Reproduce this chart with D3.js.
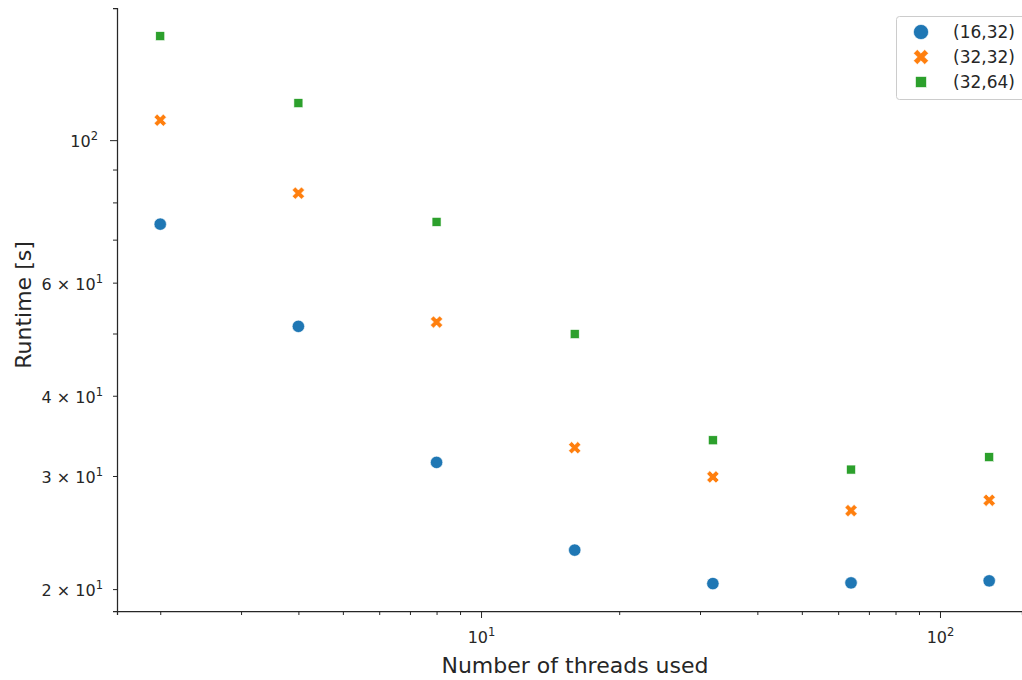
<!DOCTYPE html>
<html>
<head>
<meta charset="utf-8">
<script src="https://cdn.jsdelivr.net/npm/d3@7/dist/d3.min.js"></script>
<style>
  html, body { margin: 0; padding: 0; background: #fff; }
  svg { display: block; font-family: "DejaVu Sans", sans-serif; }
</style>
</head>
<body>
<svg id="chart" width="1022" height="680"></svg>
<script>
// Runtime measurements per thread count, one series per (block, grid) configuration
const threads = [2, 4, 8, 16, 32, 64, 128];
const seriesNames = ["(16,32)", "(32,32)", "(32,64)"];
const runtime_16_32 = [74.0, 51.3, 31.5, 23.0, 20.4, 20.45, 20.6];
const runtime_32_32 = [107.4, 82.7, 52.1, 33.2, 29.9, 26.5, 27.5];
const runtime_32_64 = [145.2, 114.2, 74.6, 49.9, 34.1, 30.7, 32.1];
const seriesColors = ["#1f77b4", "#ff7f0e", "#2ca02c"];
const seriesShapes = ["circle", "x", "square"];

// Axis ticks
const xMajor = [10, 100];
const xMajorExp = ["1", "2"];
const xMinor = [2, 3, 4, 5, 6, 7, 8, 9, 20, 30, 40, 50, 60, 70, 80, 90];
const yLabeled = [20, 30, 40, 60, 100];
const yLabelText = [["2 × 10", "1"], ["3 × 10", "1"], ["4 × 10", "1"], ["6 × 10", "1"], ["10", "2"]];
const yMinor = [50, 70, 80, 90];

const seriesValues = [runtime_16_32, runtime_32_32, runtime_32_64];

const svg = d3.select("#chart");
const ink = "#262626";

const x = d3.scaleLog().domain([1.61, 150.9]).range([117, 1022]);
const y = d3.scaleLog().domain([18.49, 160.6]).range([611, 8]);

// Matplotlib-style filled X marker
function xMarkerPath(s) {
  const h = s / 2, w = s / 6;
  const pts = [[-w, -h], [w, -h], [w, -w], [h, -w], [h, w], [w, w], [w, h], [-w, h], [-w, w], [-h, w], [-h, -w], [-w, -w]];
  const c = Math.SQRT1_2;
  return "M" + pts.map(([a, b]) => [(a - b) * c, (a + b) * c].map(v => v.toFixed(2)).join(",")).join("L") + "Z";
}

function drawMarker(g, shape, color, cx, cy, k) {
  if (shape === "circle") {
    g.append("circle").attr("cx", cx).attr("cy", cy).attr("r", 6.2 * k)
      .attr("fill", color).attr("stroke", "#fff").attr("stroke-width", 0.6);
  } else if (shape === "x") {
    g.append("path").attr("d", xMarkerPath(13 * k)).attr("transform", `translate(${cx},${cy})`)
      .attr("fill", color).attr("stroke", "#fff").attr("stroke-width", 0.6);
  } else {
    const s = 9 * k;
    g.append("rect").attr("x", cx - s / 2).attr("y", cy - s / 2).attr("width", s).attr("height", s)
      .attr("fill", color).attr("stroke", "#fff").attr("stroke-width", 0.6);
  }
}

// X axis
const xAxisG = svg.append("g").attr("transform", "translate(0,611)");
xAxisG.call(d3.axisBottom(x).tickValues(xMinor).tickSize(4).tickFormat(""));
xAxisG.append("g").call(d3.axisBottom(x).tickValues(xMajor).tickSize(7).tickPadding(14)
  .tickFormat(() => ""));
xAxisG.selectAll("path.domain").attr("stroke", ink).attr("stroke-width", 1.25);
xAxisG.selectAll("g").filter(function () { return this.parentNode === xAxisG.node(); }).select("path.domain").remove();
xAxisG.selectAll(".tick line").attr("stroke", ink).attr("stroke-width", 1);
xAxisG.selectAll(".tick text").each(function (d) {
  const i = xMajor.indexOf(d);
  if (i < 0) return;
  const t = d3.select(this).attr("fill", ink).attr("font-size", 16).attr("font-family", "DejaVu Sans");
  t.append("tspan").text("10");
  t.append("tspan").attr("font-size", 11.5).attr("dy", -7).text(xMajorExp[i]);
});

// Y axis
const yAxisG = svg.append("g").attr("transform", "translate(117,0)");
yAxisG.call(d3.axisLeft(y).tickValues(yMinor).tickSize(4).tickFormat(""));
yAxisG.append("g").call(d3.axisLeft(y).tickValues(yLabeled).tickSize(4).tickPadding(6)
  .tickFormat(() => ""));
yAxisG.selectAll("g").filter(function () { return this.parentNode === yAxisG.node(); }).select("path.domain").remove();
yAxisG.select("path.domain").attr("stroke", ink).attr("stroke-width", 1.25);
yAxisG.selectAll(".tick line").attr("stroke", ink).attr("stroke-width", 1)
  .filter(d => d === 100).attr("x2", -7);
yAxisG.selectAll(".tick text").each(function (d) {
  const i = yLabeled.indexOf(d);
  if (i < 0) return;
  const t = d3.select(this).attr("fill", ink).attr("font-size", 16).attr("font-family", "DejaVu Sans")
    .attr("x", d === 100 ? -19 : -14).attr("dy", "0.4em");
  t.append("tspan").text(yLabelText[i][0]);
  t.append("tspan").attr("font-size", 11.5).attr("dy", -7).text(yLabelText[i][1]);
});

// Axis titles
svg.append("text").attr("x", 575).attr("y", 673).attr("text-anchor", "middle")
  .attr("font-size", 22).attr("fill", ink).text("Number of threads used");
svg.append("text").attr("transform", "translate(31,305) rotate(-90)").attr("text-anchor", "middle")
  .attr("font-size", 22).attr("fill", ink).text("Runtime [s]");

// Points
const pts = svg.append("g");
seriesValues.forEach((vals, si) => {
  vals.forEach((v, i) => drawMarker(pts, seriesShapes[si], seriesColors[si], x(threads[i]), y(v), 1));
});

// Legend
const lg = svg.append("g");
lg.append("rect").attr("x", 896.5).attr("y", 16.5).attr("width", 140).attr("height", 83)
  .attr("rx", 3).attr("fill", "#fff").attr("fill-opacity", 0.8).attr("stroke", "#cccccc").attr("stroke-width", 1);
seriesNames.forEach((name, i) => {
  const cy = 32 + i * 25;
  drawMarker(lg, seriesShapes[i], seriesColors[i], 921, cy, 1.22);
  lg.append("text").attr("x", 953).attr("y", cy).attr("dy", "0.36em")
    .attr("font-size", 17).attr("fill", ink).text(name);
});
</script>
</body>
</html>
